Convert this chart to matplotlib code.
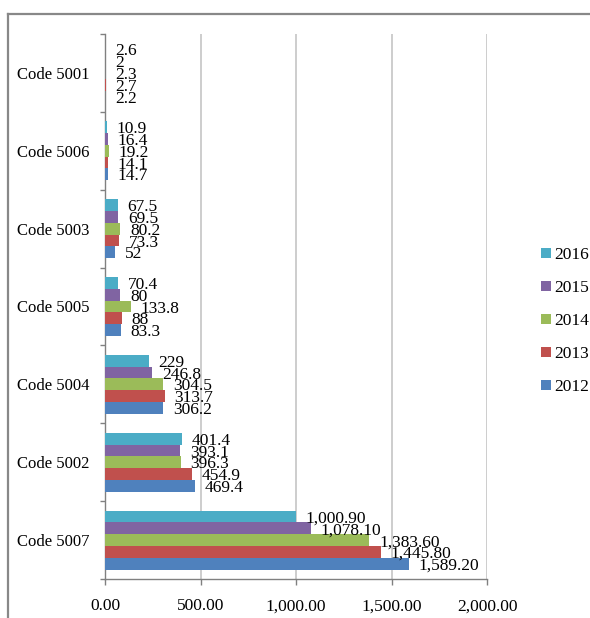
import matplotlib
matplotlib.use("Agg")
import matplotlib.pyplot as plt
from matplotlib.lines import Line2D
from matplotlib.patches import Patch
import numpy as np

plt.rcParams['font.family'] = ['Liberation Serif', 'DejaVu Serif']

# Categories listed bottom-to-top as drawn on the axis
categories = ["Code 5007", "Code 5002", "Code 5004", "Code 5005",
              "Code 5003", "Code 5006", "Code 5001"]
years = ["2012", "2013", "2014", "2015", "2016"]
colors = ["#4F81BD", "#C0504D", "#9BBB59", "#8064A2", "#4BACC6"]

values_2012 = [1589.20, 469.4, 306.2, 83.3, 52, 14.7, 2.2]
values_2013 = [1445.80, 454.9, 313.7, 88, 73.3, 14.1, 2.7]
values_2014 = [1383.60, 396.3, 304.5, 133.8, 80.2, 19.2, 2.3]
values_2015 = [1078.10, 393.1, 246.8, 80, 69.5, 16.4, 2]
values_2016 = [1000.90, 401.4, 229, 70.4, 67.5, 10.9, 2.6]
series = [values_2012, values_2013, values_2014, values_2015, values_2016]

x_ticks = [0, 500, 1000, 1500, 2000]

W, H = 590, 618
fig = plt.figure(figsize=(W / 100, H / 100), dpi=100)
ax = fig.add_axes([105 / W, 1 - 579 / H, (487 - 105) / W, (579 - 34) / H])

group = 0.757
bh = group / len(series)
y = np.arange(len(categories))

def fmt(v):
    return f"{v:,.2f}" if v >= 1000 else f"{v:g}"

for i, (vals, col) in enumerate(zip(series, colors)):
    pos = y + (i - (len(series) - 1) / 2) * bh
    ax.barh(pos, vals, height=bh, color=col, edgecolor='none', zorder=3)
    for p, v in zip(pos, vals):
        ax.annotate(fmt(v), xy=(v, p), xytext=(7, -1.5), textcoords='offset points',
                    ha='left', va='center', fontsize=12.5, color='black', zorder=4)

ax.set_xlim(0, 2000)
ax.set_ylim(-0.5, len(categories) - 0.5)
ax.set_xticks(x_ticks)
ax.set_xticklabels([f"{t:,.2f}" for t in x_ticks], fontsize=12.5)
ax.set_yticks(y)
ax.set_yticklabels(categories, fontsize=12)
ax.set_yticks(np.arange(-0.5, len(categories), 1.0), minor=True)
ax.tick_params(axis='y', which='major', length=0, pad=11.5)
ax.tick_params(axis='y', which='minor', length=3.6, width=1, color='#808080')
ax.tick_params(axis='x', which='major', length=4.5, width=1, color='#808080', pad=9.5)

ax.grid(axis='x', color='#C0C0C0', linewidth=1.1, zorder=0)
for s in ['top', 'right']:
    ax.spines[s].set_visible(False)
for s in ['left', 'bottom']:
    ax.spines[s].set_color('#808080')
    ax.spines[s].set_linewidth(1.0)

# Chart area frame (top and left edges)
fig.add_artist(Line2D([8 / W, 8 / W], [0, 1 - 14 / H], transform=fig.transFigure,
                      color='#888888', linewidth=1.6))
fig.add_artist(Line2D([8 / W, 1], [1 - 14 / H, 1 - 14 / H], transform=fig.transFigure,
                      color='#888888', linewidth=1.6))

handles = [Patch(facecolor=c, edgecolor='none') for c in colors][::-1]
labels = years[::-1]
fig.legend(handles, labels, loc='center left', bbox_to_anchor=(541 / W, 1 - 321 / H),
           frameon=False, fontsize=12.5, handlelength=0.55, handleheight=0.55,
           handletextpad=0.2, labelspacing=0.98, borderpad=0, borderaxespad=0)

fig.savefig("out.png", dpi=100)
